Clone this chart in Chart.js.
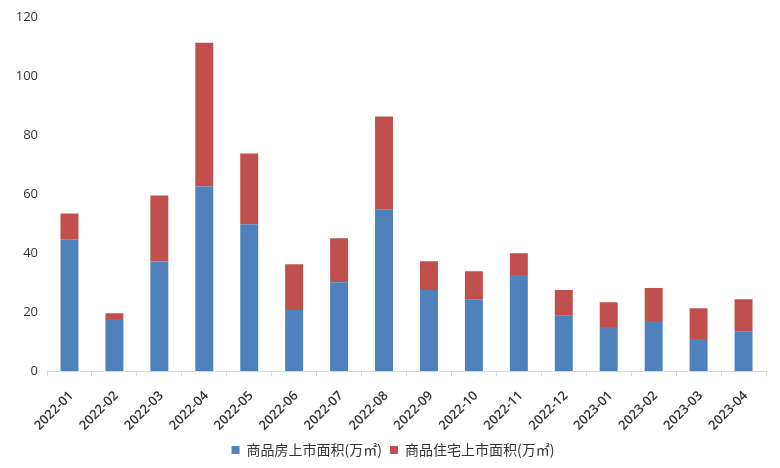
<!DOCTYPE html>
<html>
<head>
<meta charset="utf-8">
<script src="https://cdn.jsdelivr.net/npm/chart.js@4"></script>
<style>
  html, body { margin: 0; padding: 0; background: #fff; }
  #wrap { width: 780px; height: 468px; }
</style>
</head>
<body>
<div id="wrap"><canvas id="chart" width="780" height="468"></canvas></div>
<script>
const months = [
  '2022-01', '2022-02', '2022-03', '2022-04', '2022-05', '2022-06', '2022-07', '2022-08',
  '2022-09', '2022-10', '2022-11', '2022-12', '2023-01', '2023-02', '2023-03', '2023-04'
];

// 商品房上市面积 (万㎡)
const commercialArea = [44.6, 17.6, 37.1, 62.5, 49.7, 20.7, 30.1, 54.8, 27.4, 24.3, 32.5, 18.7, 14.9, 16.9, 10.8, 13.3];
// 商品住宅上市面积 (万㎡), stacked on top
const residentialArea = [8.8, 2.0, 22.4, 48.7, 24.0, 15.5, 14.9, 31.4, 9.8, 9.5, 7.4, 8.7, 8.4, 11.2, 10.5, 11.0];

const yTicks = [0, 20, 40, 60, 80, 100, 120];

const cjkFont = '"Noto Sans CJK SC", "Noto Sans", sans-serif';
const numFont = '"Open Sans", "Noto Sans", sans-serif';
const axisColor = '#d9d9d9';
const textColor = '#333333';

// the legend sits a little right of the canvas centre
const shiftLegend = {
  id: 'shiftLegend',
  afterLayout(chart) {
    chart.legend.left += 10;
    chart.legend.right += 10;
  }
};

new Chart(document.getElementById('chart'), {
  type: 'bar',
  data: {
    labels: months,
    datasets: [
      {
        label: '商品房上市面积(万㎡)',
        data: commercialArea,
        backgroundColor: '#4f81bd',
        barPercentage: 0.4,
        categoryPercentage: 1
      },
      {
        label: '商品住宅上市面积(万㎡)',
        data: residentialArea,
        backgroundColor: '#c0504d',
        barPercentage: 0.4,
        categoryPercentage: 1
      }
    ]
  },
  plugins: [shiftLegend],
  options: {
    responsive: false,
    animation: false,
    layout: {
      padding: { top: 10, left: 0, right: 14, bottom: 1 }
    },
    plugins: {
      tooltip: { enabled: false },
      legend: {
        position: 'bottom',
        labels: {
          color: textColor,
          boxWidth: 8,
          boxHeight: 8,
          padding: 8,
          font: { family: cjkFont, size: 14 }
        }
      }
    },
    scales: {
      x: {
        stacked: true,
        afterFit: (axis) => {
          axis.height = 64;
        },
        border: { display: true, color: axisColor },
        grid: {
          display: true,
          drawOnChartArea: false,
          drawTicks: true,
          tickLength: 5,
          offset: true,
          color: axisColor
        },
        ticks: {
          color: textColor,
          minRotation: 45,
          maxRotation: 45,
          autoSkip: false,
          padding: 12,
          labelOffset: 2,
          font: { family: numFont, size: 13, weight: '600' }
        }
      },
      y: {
        stacked: true,
        min: 0,
        max: 120,
        afterBuildTicks: (axis) => {
          axis.ticks = yTicks.map((v) => ({ value: v }));
        },
        afterFit: (axis) => {
          axis.width = 47;
        },
        border: { display: false },
        grid: { display: false, drawTicks: false },
        ticks: {
          color: textColor,
          padding: 9,
          font: { family: numFont, size: 13 }
        }
      }
    }
  }
});
</script>
</body>
</html>
